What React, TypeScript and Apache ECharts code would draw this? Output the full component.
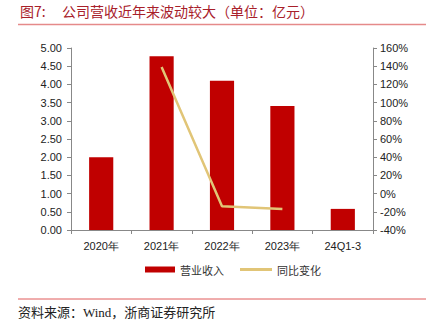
import React, { useEffect, useRef } from "react";
import * as echarts from "echarts";

const categories = ["2020年", "2021年", "2022年", "2023年", "24Q1-3"];
const revenue = [2.0, 4.77, 4.1, 3.41, 0.58];
const yoy = [null, 139, -14, -17, null];
const leftTicks = { min: 0, max: 5, interval: 0.5 };
const rightTicks = { min: -40, max: 160, interval: 20 };
const titleLabel = "图7:";
const titleText = "公司营收近年来波动较大（单位：亿元）";
const sourceText = "资料来源：Wind，浙商证券研究所";
const seriesNames = ["营业收入", "同比变化"];

export default function App() {
  const ref = useRef<HTMLDivElement>(null);
  useEffect(() => {
    if (!ref.current) return;
    const chart = echarts.init(ref.current, null, { renderer: "svg" });
    const axisFont = { fontFamily: "Liberation Sans, Arial, sans-serif", fontSize: 11, color: "#222" };
    const legendText = { fontFamily: "Noto Sans CJK SC", fontSize: 11, color: "#333" };
    chart.setOption({
      animation: false,
      backgroundColor: "#fff",
      grid: { left: 71, right: 53, top: 48, bottom: 102, containLabel: false },
      legend: [
        {
          data: [seriesNames[0]],
          bottom: 52,
          left: 140,
          itemWidth: 30,
          itemHeight: 6,
          icon: "rect",
          textStyle: legendText,
        },
        {
          data: [seriesNames[1]],
          bottom: 52,
          left: 235,
          itemWidth: 32,
          itemHeight: 3,
          icon: "rect",
          textStyle: legendText,
        },
      ],
      xAxis: {
        type: "category",
        data: categories,
        axisLine: { lineStyle: { color: "#888", width: 1 } },
        axisTick: { show: true, alignWithLabel: false, length: 4, lineStyle: { color: "#888" } },
        axisLabel: { ...axisFont, margin: 10 },
      },
      yAxis: [
        {
          type: "value",
          ...leftTicks,
          splitLine: { show: false },
          axisLine: { show: true, lineStyle: { color: "#888" } },
          axisTick: { show: true, length: 4, lineStyle: { color: "#888" } },
          axisLabel: { ...axisFont, margin: 9, formatter: (v: number) => v.toFixed(2) },
        },
        {
          type: "value",
          ...rightTicks,
          splitLine: { show: false },
          axisLine: { show: true, lineStyle: { color: "#888" } },
          axisTick: { show: true, length: 4, lineStyle: { color: "#888" } },
          axisLabel: { ...axisFont, margin: 7, formatter: (v: number) => v + "%" },
        },
      ],
      series: [
        {
          name: seriesNames[0],
          type: "bar",
          data: revenue,
          barWidth: "40%",
          itemStyle: { color: "#C00000" },
        },
        {
          name: seriesNames[1],
          type: "line",
          yAxisIndex: 1,
          data: yoy,
          symbol: "none",
          lineStyle: { color: "#E1C577", width: 2.5 },
          itemStyle: { color: "#E1C577" },
        },
      ],
      graphic: [
        {
          type: "text",
          left: 20,
          top: 4,
          style: { text: titleLabel, fontFamily: "Noto Sans CJK SC", fontSize: 14, fill: "#A8202A" },
        },
        {
          type: "text",
          left: 62,
          top: 4,
          style: { text: titleText, fontFamily: "Noto Sans CJK SC", fontSize: 14, fill: "#A8202A" },
        },
        {
          type: "line",
          shape: { x1: 18, y1: 24.5, x2: 426, y2: 24.5 },
          style: { stroke: "#E58A8A", lineWidth: 1.5 },
        },
        {
          type: "line",
          shape: { x1: 18, y1: 299, x2: 426, y2: 299 },
          style: { stroke: "#E05A5A", lineWidth: 1 },
        },
        {
          type: "text",
          left: 18,
          top: 306,
          style: { text: sourceText, fontFamily: "Liberation Serif, Noto Sans CJK SC", fontSize: 13, fill: "#222" },
        },
      ],
    });
    return () => chart.dispose();
  }, []);
  return <div ref={ref} style={{ width: 426, height: 332, position: "absolute", left: 0, top: 0 }} />;
}
